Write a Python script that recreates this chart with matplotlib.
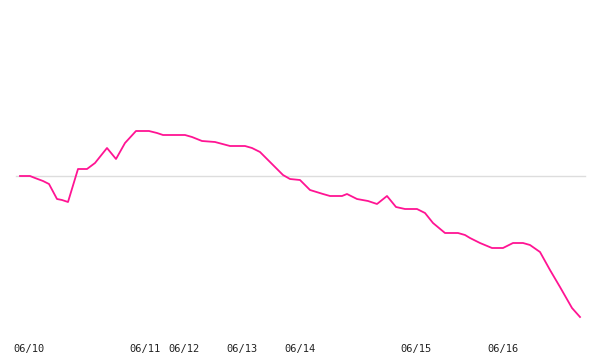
import matplotlib
matplotlib.use("Agg")
import matplotlib.pyplot as plt

# time index (sample steps) and % change values
t = [0.0, 1.0, 1.5, 2.3, 2.9, 3.7, 4.2, 4.8, 5.8, 6.7,
     7.5, 8.7, 9.6, 10.5, 11.6, 12.9, 13.7, 14.3, 16.5, 17.2,
     18.2, 19.5, 21.0, 22.5, 23.2, 24.0, 25.0, 26.3, 27.0, 28.0,
     29.0, 30.3, 31.0, 32.2, 32.7, 33.7, 34.8, 35.7, 36.7, 37.6,
     38.5, 39.7, 40.5, 41.3, 42.5, 43.8, 44.5, 45.0, 46.0, 47.2,
     48.3, 49.3, 50.3, 51.0, 52.0, 53.0, 54.0, 55.2, 56.0]
v = [0.00, 0.00, -0.10, -0.25, -0.40, -1.15, -1.20, -1.30, 0.35, 0.35,
     0.65, 1.40, 0.85, 1.65, 2.25, 2.25, 2.15, 2.05, 2.05, 1.95,
     1.75, 1.70, 1.50, 1.50, 1.40, 1.20, 0.70, 0.05, -0.15, -0.20,
     -0.70, -0.90, -1.00, -1.00, -0.90, -1.15, -1.25, -1.40, -1.00, -1.55,
     -1.65, -1.65, -1.85, -2.35, -2.85, -2.85, -2.95, -3.10, -3.35, -3.60,
     -3.60, -3.35, -3.35, -3.45, -3.80, -4.70, -5.55, -6.60, -7.05]
tick_pos = [0.9, 12.5, 16.4, 22.2, 28.0, 39.6, 48.3]
tick_labels = ["06/10", "06/11", "06/12", "06/13", "06/14", "06/15", "06/16"]

fig = plt.figure(figsize=(6, 3.6), dpi=100)
ax = fig.add_axes([0, 20 / 360, 1, 340 / 360])
ax.axhline(0, xmin=16 / 600, xmax=585 / 600, color="#dddddd", lw=1.0, zorder=1)
ax.plot(t, v, color="#ff1493", lw=1.3, zorder=2)
ax.set_xlim(-2, 58)
ax.set_ylim(-8.2, 8.8)
for s in ax.spines.values():
    s.set_visible(False)
ax.set_yticks([])
ax.set_xticks(tick_pos)
ax.set_xticklabels(tick_labels, family="DejaVu Sans Mono", fontsize=7.5, color="#222222")
ax.tick_params(axis="x", length=0, pad=3)
fig.savefig("out.png", dpi=100, facecolor="white")
